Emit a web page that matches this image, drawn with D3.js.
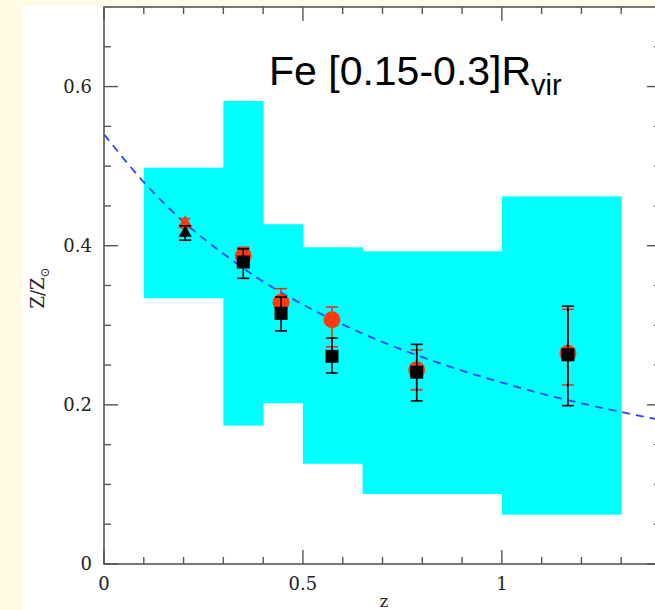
<!DOCTYPE html>
<html>
<head>
<meta charset="utf-8">
<script src="https://cdn.jsdelivr.net/npm/d3@7"></script>
<style>
html,body{margin:0;padding:0;background:#fffbe4;overflow:hidden;}
svg{display:block;}
</style>
</head>
<body>
<svg id="chart" width="655" height="610"></svg>
<script>
// ---- data ----
const bandX0 = [0.1, 0.3, 0.4, 0.5, 0.65, 1.0];
const bandX1 = [0.3, 0.4, 0.5, 0.65, 1.0, 1.3];
const bandLo = [0.334, 0.174, 0.202, 0.126, 0.088, 0.062];
const bandHi = [0.498, 0.582, 0.427, 0.398, 0.393, 0.462];

const fitZ = [0, 0.1, 0.2, 0.3, 0.4, 0.5, 0.6, 0.7, 0.8, 0.9, 1.0, 1.1, 1.2, 1.3, 1.4];
const fitV = [0.540, 0.480, 0.430, 0.390, 0.355, 0.326, 0.301, 0.279, 0.260, 0.243, 0.228, 0.214, 0.202, 0.191, 0.181];

const circZ  = [0.35, 0.445, 0.573, 0.786, 1.166];
const circV  = [0.387, 0.329, 0.307, 0.244, 0.265];
const circLo = [0.376, 0.313, 0.273, 0.219, 0.225];
const circHi = [0.398, 0.346, 0.323, 0.269, 0.320];

const sqZ  = [0.35, 0.445, 0.573, 0.786, 1.166];
const sqV  = [0.3795, 0.315, 0.261, 0.241, 0.263];
const sqLo = [0.359, 0.293, 0.240, 0.205, 0.199];
const sqHi = [0.396, 0.3355, 0.284, 0.276, 0.324];

const triRedZ = [0.204], triRedV = [0.428], triRedLo = [0.422], triRedHi = [0.434];
const triBlkZ = [0.204], triBlkV = [0.416], triBlkLo = [0.407], triBlkHi = [0.425];

const xMajor = [0, 0.5, 1];
const xMajorLabels = ["0", "0.5", "1"];
const xMinor = [0.1, 0.2, 0.3, 0.4, 0.6, 0.7, 0.8, 0.9, 1.1, 1.2, 1.3];
const yMajor = [0, 0.2, 0.4, 0.6];
const yMajorLabels = ["0", "0.2", "0.4", "0.6"];
const yMinor = [0.05, 0.1, 0.15, 0.25, 0.3, 0.35, 0.45, 0.5, 0.55, 0.65];

// ---- chart ----
const svg = d3.select("#chart");
const L = 104, R = 661, T = 7, B = 564;
const x = d3.scaleLinear().domain([0, 1.4]).range([L, R]);
const y = d3.scaleLinear().domain([0, 0.7]).range([B, T]);

// white panel
svg.append("rect").attr("x", 23).attr("y", 6).attr("width", 700).attr("height", 700).attr("fill", "#ffffff");

// cyan band
svg.append("g").selectAll("rect").data(bandX0).join("rect")
  .attr("x", (d, i) => x(d))
  .attr("width", (d, i) => x(bandX1[i]) - x(d) + 0.5)
  .attr("y", (d, i) => y(bandHi[i]))
  .attr("height", (d, i) => y(bandLo[i]) - y(bandHi[i]))
  .attr("fill", "#00ffff");

// dashed fit
svg.append("path")
  .datum(fitZ.map((z, i) => [z, fitV[i]]))
  .attr("d", d3.line().x(d => x(d[0])).y(d => y(d[1])).curve(d3.curveMonotoneX))
  .attr("fill", "none").attr("stroke", "#2e40ff").attr("stroke-width", 1.8)
  .attr("stroke-dasharray", "8,6");

function errBars(zs, lo, hi, color, cap) {
  const g = svg.append("g").attr("stroke", color).attr("stroke-width", 1.6);
  zs.forEach((z, i) => {
    g.append("line").attr("x1", x(z)).attr("x2", x(z)).attr("y1", y(lo[i])).attr("y2", y(hi[i]));
    [lo[i], hi[i]].forEach(v => g.append("line")
      .attr("x1", x(z) - cap).attr("x2", x(z) + cap).attr("y1", y(v)).attr("y2", y(v)));
  });
}

// red series first
errBars(circZ, circLo, circHi, "#d83a1c", 6);
svg.append("g").selectAll("circle").data(circZ).join("circle")
  .attr("cx", d => x(d)).attr("cy", (d, i) => y(circV[i])).attr("r", 8.5)
  .attr("fill", "#ff3a10");
errBars(triRedZ, triRedLo, triRedHi, "#d83a1c", 5);
svg.append("g").selectAll("path").data(triRedZ).join("path")
  .attr("transform", (d, i) => `translate(${x(d)},${y(triRedV[i])})`)
  .attr("d", d3.symbol().type(d3.symbolTriangle).size(90))
  .attr("fill", "#ff3a10");

// black series
errBars(sqZ, sqLo, sqHi, "#000000", 6);
svg.append("g").selectAll("rect").data(sqZ).join("rect")
  .attr("x", d => x(d) - 6.5).attr("y", (d, i) => y(sqV[i]) - 6.5)
  .attr("width", 13).attr("height", 13).attr("fill", "#000000");
errBars(triBlkZ, triBlkLo, triBlkHi, "#000000", 6);
svg.append("g").selectAll("path").data(triBlkZ).join("path")
  .attr("transform", (d, i) => `translate(${x(d)},${y(triBlkV[i])})`)
  .attr("d", d3.symbol().type(d3.symbolTriangle).size(75))
  .attr("fill", "#000000");

// frame and ticks
const axisColor = "#555555";
const fr = svg.append("g").attr("stroke", axisColor).attr("fill", "none");
fr.append("rect").attr("x", L).attr("y", T).attr("width", R - L).attr("height", B - T).attr("stroke-width", 1.6);
const tk = svg.append("g").attr("stroke", axisColor).attr("stroke-width", 1.4);
function xt(vals, len) {
  vals.forEach(v => {
    tk.append("line").attr("x1", x(v)).attr("x2", x(v)).attr("y1", B).attr("y2", B - len);
    tk.append("line").attr("x1", x(v)).attr("x2", x(v)).attr("y1", T).attr("y2", T + len);
  });
}
function yt(vals, len) {
  vals.forEach(v => {
    tk.append("line").attr("x1", L).attr("x2", L + len).attr("y1", y(v)).attr("y2", y(v));
    tk.append("line").attr("x1", R).attr("x2", R - len).attr("y1", y(v)).attr("y2", y(v));
  });
}
xt(xMajor, 14); xt(xMinor, 7);
yt(yMajor, 14); yt(yMinor, 7);

// tick labels
const lf = "'DejaVu Serif', serif";
svg.append("g").selectAll("text").data(xMajor).join("text")
  .attr("x", d => x(d)).attr("y", 590)
  .attr("text-anchor", "middle").attr("font-family", lf).attr("font-size", 18)
  .attr("fill", "#222").text((d, i) => xMajorLabels[i]);
svg.append("g").selectAll("text").data(yMajor).join("text")
  .attr("x", 92).attr("y", d => y(d)).attr("dy", "0.36em")
  .attr("text-anchor", "end").attr("font-family", lf).attr("font-size", 18)
  .attr("fill", "#222").text((d, i) => yMajorLabels[i]);

// axis titles
svg.append("text").attr("x", 384).attr("y", 607).attr("text-anchor", "middle")
  .attr("font-family", lf).attr("font-size", 16).attr("fill", "#222").text("z");
const yl = svg.append("text").attr("transform", "translate(44,288) rotate(-90)")
  .attr("text-anchor", "middle").attr("font-family", lf).attr("font-size", 18).attr("fill", "#222");
yl.append("tspan").text("Z/Z");
yl.append("tspan").attr("font-size", 12).attr("dy", 5).text("\u2299");

// title
const t = svg.append("text").attr("x", 269).attr("y", 85)
  .attr("font-family", "'Liberation Sans', Arial, sans-serif").attr("font-size", 41).attr("fill", "#000");
t.append("tspan").text("Fe [0.15-0.3]R");
t.append("tspan").attr("font-size", 29).attr("dy", 10).text("vir");
</script>
</body>
</html>
